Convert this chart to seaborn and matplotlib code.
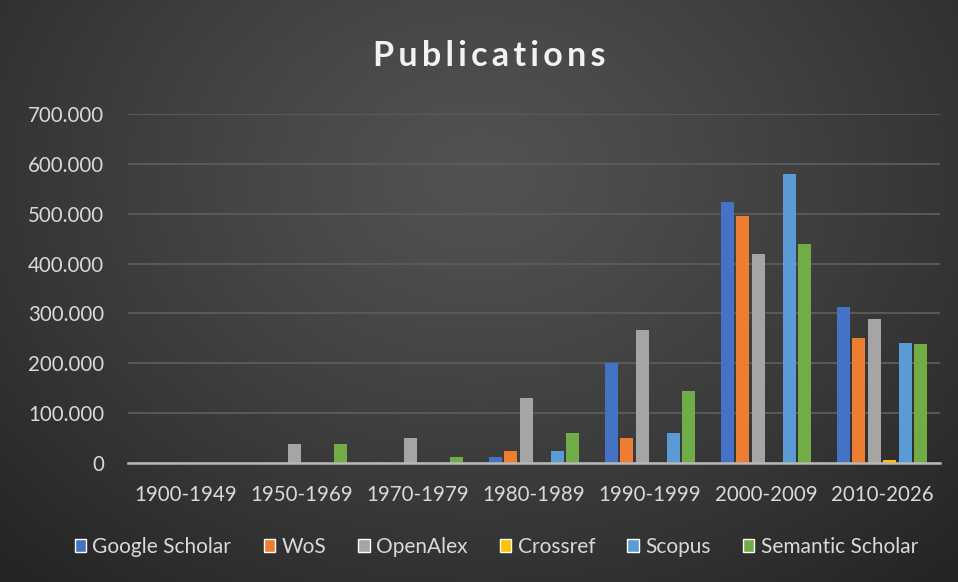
import numpy as np
import pandas as pd
import matplotlib
matplotlib.use("Agg")
import matplotlib.pyplot as plt
import seaborn as sns
from matplotlib.ticker import FuncFormatter

periods = ["1900-1949", "1950-1969", "1970-1979", "1980-1989", "1990-1999", "2000-2009", "2010-2026"]
google_scholar = [0, 1000, 2000, 13000, 200000, 524000, 313000]
wos = [0, 0, 0, 25000, 50000, 496000, 251000]
openalex = [0, 38000, 51000, 130000, 266000, 420000, 288000]
crossref = [0, 0, 0, 0, 1000, 1000, 7000]
scopus = [0, 0, 0, 25000, 61000, 580000, 241000]
semantic_scholar = [0, 38000, 12000, 61000, 145000, 439000, 238000]

series_names = ["Google Scholar", "WoS", "OpenAlex", "Crossref", "Scopus", "Semantic Scholar"]
series_values = [google_scholar, wos, openalex, crossref, scopus, semantic_scholar]
colors = ["#4472C4", "#ED7D31", "#A5A5A5", "#FFC000", "#5B9BD5", "#70AD47"]
yticks = [0, 100000, 200000, 300000, 400000, 500000, 600000, 700000]

rows = []
for name, vals in zip(series_names, series_values):
    for p, v in zip(periods, vals):
        rows.append({"period": p, "source": name, "value": v})
df = pd.DataFrame(rows)

sns.set_theme(style="white")
plt.rcParams["font.family"] = ["Lato", "DejaVu Sans"]

fig = plt.figure(figsize=(9.58, 5.82), dpi=100)

# gradient background
bg = fig.add_axes([0, 0, 1, 1], zorder=-10)
h, w = 582, 958
yy, xx = np.mgrid[0:h, 0:w]
cx, cy = w * 0.5, h * 0.3
r = np.sqrt(((xx - cx) / (w * 0.7)) ** 2 + ((yy - cy) / (h * 0.9)) ** 2)
r = np.clip(r, 0, 1)
inner, outer = 0x52, 0x26
val = (inner + (outer - inner) * r ** 1.2) / 255.0
img = np.dstack([val, val, val])
bg.imshow(img, aspect="auto", extent=[0, 1, 0, 1], origin="upper")
bg.axis("off")

ax = fig.add_axes([128 / 958, 1 - 463 / 582, (940 - 128) / 958, (463 - 114) / 582])
ax.set_facecolor("none")

sns.barplot(data=df, x="period", y="value", hue="source", palette=colors,
            hue_order=series_names, order=periods, ax=ax, width=0.8,
            saturation=1, errorbar=None, legend=True)

# small gaps between bars
for patch in ax.patches:
    wdt = patch.get_width()
    if wdt > 0 and wdt < 0.5:
        patch.set_width(wdt * 0.84)
        patch.set_x(patch.get_x() + wdt * 0.08)
        patch.set_linewidth(0)

ax.set_ylim(0, 700000)
ax.set_yticks(yticks)
ax.yaxis.set_major_formatter(FuncFormatter(lambda v, p: "0" if v == 0 else f"{int(v):,}".replace(",", ".")))
ax.grid(axis="y", color="#5c5c5c", linewidth=1.3)
ax.set_axisbelow(True)
for s in ["top", "right", "left"]:
    ax.spines[s].set_visible(False)
ax.spines["bottom"].set_color("#b8b8b8")
ax.spines["bottom"].set_linewidth(1.8)
ax.tick_params(axis="both", length=0, colors="#d9d9d9", labelsize=14.8)
ax.tick_params(axis="y", pad=17)
ax.tick_params(axis="x", pad=16)
ax.set_xlabel("")
ax.set_ylabel("")
ax.set_xlim(-0.5, len(periods) - 0.5)

sns.move_legend(ax, "center", bbox_to_anchor=(0.518, 1 - 547 / 582), bbox_transform=fig.transFigure,
                ncol=6, frameon=False, title=None, fontsize=15, handlelength=0.55, handleheight=0.55,
                handletextpad=0.3, columnspacing=1.55)
for t in ax.get_legend().get_texts():
    t.set_color("#d9d9d9")

fig.text(0.511, 1 - 56 / 582, "\u2009".join("Publications"), ha="center", va="center",
         fontsize=24.5, fontweight="bold", color="#f2f2f2")

fig.savefig("out.png", dpi=100)
